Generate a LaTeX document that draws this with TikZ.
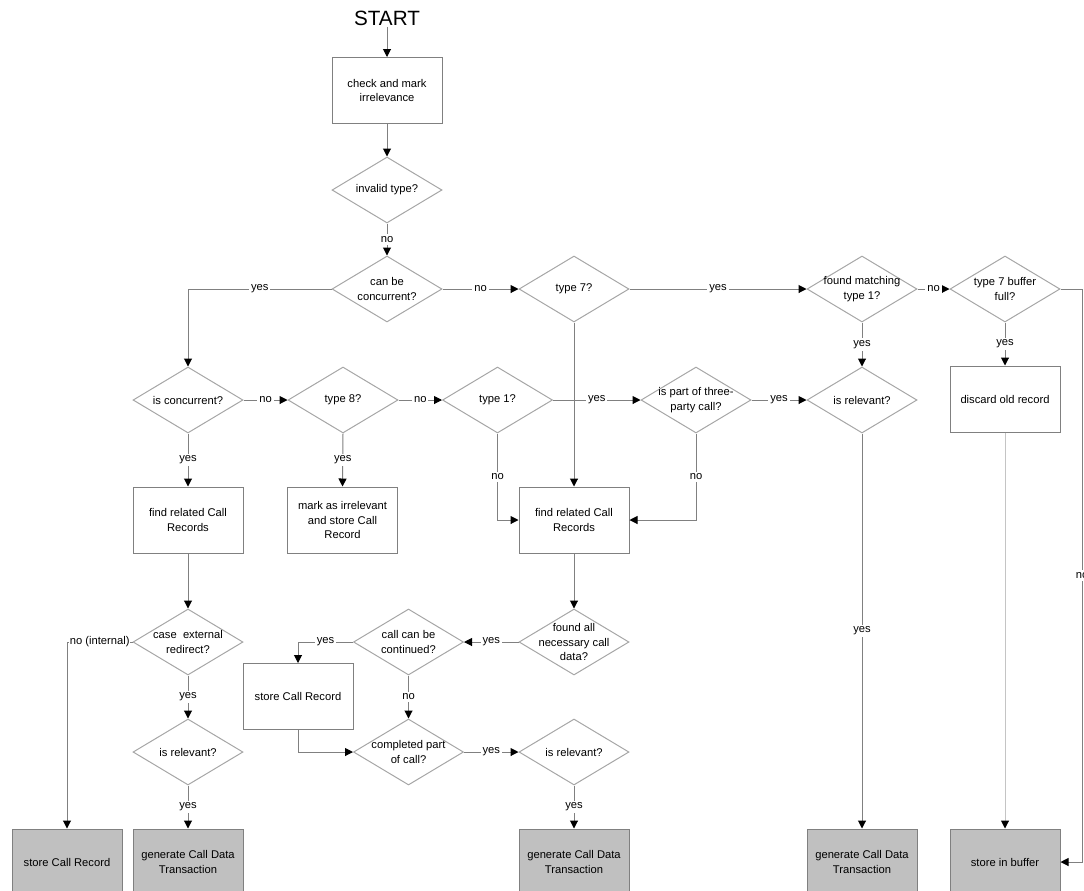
\documentclass[tikz,border=0pt]{standalone}
\usepackage{fontspec}
\setmainfont{Liberation Sans}
\usetikzlibrary{shapes.geometric,arrows.meta}
\definecolor{linegray}{HTML}{808080}
\definecolor{edgegray}{HTML}{A6A6A6}
\definecolor{lightline}{HTML}{C4C4C4}
\definecolor{fillgray}{HTML}{C0C0C0}
\begin{document}
\begin{tikzpicture}[x=0.75pt,y=-0.75pt,
   font=\fontsize{8.4}{11.2}\selectfont,
   line/.style={draw=linegray,line width=0.75pt,-{Triangle[length=6pt,width=6pt,color=black]}},
   lbl/.style={fill=white,inner sep=1.5pt},
   proc/.style={rectangle,draw=linegray,line width=0.75pt,minimum width=82.5pt,minimum height=49.5pt,align=center,inner sep=2pt},
   term/.style={proc,fill=fillgray},
   decision/.style={diamond,draw=edgegray,line width=0.75pt,minimum width=82.5pt,minimum height=49.5pt,inner sep=0pt},
   dtext/.style={align=center,inner sep=0pt}]
   \useasboundingbox (0,0) rectangle (1084,890);
   % top column
   \node [font=\fontsize{15.5}{18}\selectfont,inner sep=1pt] (start) at (387,18) {START};
   \node [proc] (chk) at (387,90.5) {check and mark\\irrelevance};
   \node [decision,label={[dtext]center:invalid type?}] (inv) at (387,190) {};
   \node [decision,label={[dtext]center:{can be\\concurrent?}}] (cbc) at (387,289) {};
   \node [decision,label={[dtext]center:type 7?}] (t7) at (574,289) {};
   \node [decision,label={[dtext]center:{found matching\\type 1?}}] (fm) at (862,289) {};
   \node [decision,label={[dtext]center:{type 7 buffer\\full?}}] (bf) at (1005,289) {};
   \coordinate (rt) at (1082,289);
   % second row
   \node [decision,label={[dtext]center:is concurrent?}] (isc) at (188,400) {};
   \node [decision,label={[dtext]center:type 8?}] (t8) at (343,400) {};
   \node [decision,label={[dtext]center:type 1?}] (t1) at (497.5,400) {};
   \node [decision,label={[dtext]center:{is part of three-\\party call?}}] (tp) at (696,400) {};
   \node [decision,label={[dtext]center:is relevant?}] (rel1) at (862,400) {};
   \node [proc] (disc) at (1005,399) {discard old record};
   % third row
   \node [proc] (frc1) at (188,520) {find related Call\\Records};
   \node [proc] (mark) at (342.5,520) {mark as irrelevant\\and store Call\\Record};
   \node [proc] (frc2) at (574,520) {find related Call\\Records};
   % lower part
   \node [decision,label={[dtext]center:{case\ \ external\\redirect?}}] (cer) at (188,642) {};
   \node [decision,label={[dtext]center:{call can be\\continued?}}] (ccb) at (408.5,642) {};
   \node [decision,label={[dtext]center:{found all\\necessary call\\data?}}] (fa) at (574,642) {};
   \node [proc] (scr2) at (298,696.5) {store Call Record};
   \node [decision,label={[dtext]center:is relevant?}] (rel2) at (188,752) {};
   \node [decision,label={[dtext]center:{completed part\\of call?}}] (cp) at (408.5,752) {};
   \node [decision,label={[dtext]center:is relevant?}] (rel3) at (574,752) {};
   % end boxes
   \node [term] (scr1) at (67,862) {store Call Record};
   \node [term] (gct1) at (188,862) {generate Call Data\\Transaction};
   \node [term] (gct2) at (574,862) {generate Call Data\\Transaction};
   \node [term] (gct3) at (862,862) {generate Call Data\\Transaction};
   \node [term] (sib) at (1005,862) {store in buffer};
   % connectors
   \draw [line] (start) -- (chk);
   \draw [line] (chk) -- (inv);
   \draw [line] (inv) -- node [lbl] {no} (cbc);
   \draw [line] (cbc.west) -| node [lbl,pos=0.25] {yes} (isc.north);
   \draw [line] (cbc.east) -- node [lbl] {no} (t7.west);
   \draw [line] (t7.east) -- node [lbl] {yes} (fm.west);
   \draw [line] (fm.east) -- node [lbl] {no} (bf.west);
   \draw [line] (bf.east) -- (rt) |- node [lbl,pos=0.25] {no} (sib.east);
   \draw [line] (fm.south) -- node [lbl] {yes} (rel1.north);
   \draw [line] (bf.south) -- node [lbl] {yes} (disc.north);
   \draw [line,draw=lightline] (disc.south) -- (sib.north);
   \draw [line] (rel1.south) -- node [lbl] {yes} (gct3.north);
   \draw [line] (t7.south) -- (frc2.north);
   \draw [line] (isc.east) -- node [lbl] {no} (t8.west);
   \draw [line] (t8.east) -- node [lbl] {no} (t1.west);
   \draw [line] (t1.east) -- node [lbl] {yes} (tp.west);
   \draw [line] (tp.east) -- node [lbl] {yes} (rel1.west);
   \draw [line] (isc.south) -- node [lbl] {yes} (frc1.north);
   \draw [line] (t8.south) -- node [lbl] {yes} (mark.north);
   \draw [line] (t1.south) |- node [lbl,pos=0.25] {no} (frc2.west);
   \draw [line] (tp.south) |- node [lbl,pos=0.25] {no} (frc2.east);
   \draw [line] (frc1.south) -- (cer.north);
   \draw [line] (cer.west) -| node [lbl,pos=0.25,inner sep=0.5pt] {no (internal)} (scr1.north);
   \draw [line] (cer.south) -- node [lbl] {yes} (rel2.north);
   \draw [line] (rel2.south) -- node [lbl] {yes} (gct1.north);
   \draw [line] (frc2.south) -- (fa.north);
   \draw [line] (fa.west) -- node [lbl] {yes} (ccb.east);
   \draw [line] (ccb.west) -| node [lbl,pos=0.25] {yes} (scr2.north);
   \draw [line] (ccb.south) -- node [lbl] {no} (cp.north);
   \draw [line] (scr2.south) |- (cp.west);
   \draw [line] (cp.east) -- node [lbl] {yes} (rel3.west);
   \draw [line] (rel3.south) -- node [lbl] {yes} (gct2.north);
\end{tikzpicture}
\end{document}
